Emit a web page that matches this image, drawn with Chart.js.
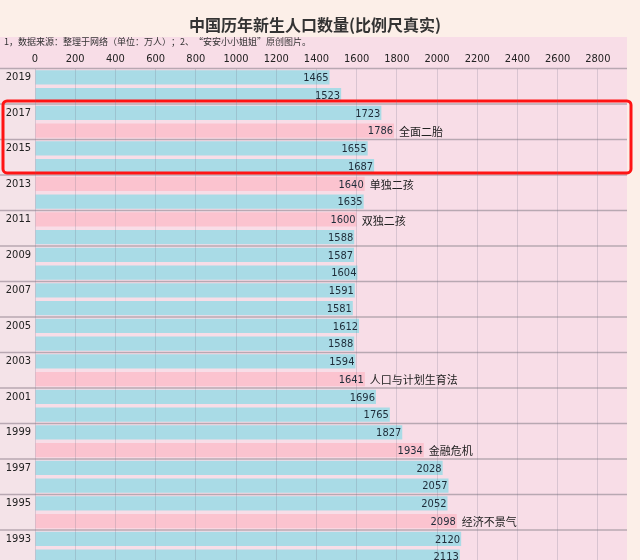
<!DOCTYPE html>
<html>
<head>
<meta charset="utf-8">
<script src="https://cdn.jsdelivr.net/npm/chart.js@4.4.1/dist/chart.umd.min.js"></script>
<style>
html,body{margin:0;padding:0;overflow:hidden;background:#fcefe8;}
#wrap{width:640px;height:576px;}
</style>
</head>
<body>
<div id="wrap"><canvas id="c" width="640" height="576"></canvas></div>
<script>
const years = ["2019","2018","2017","2016","2015","2014","2013","2012","2011","2010","2009","2008","2007","2006","2005","2004","2003","2002","2001","2000","1999","1998","1997","1996","1995","1994","1993","1992"];
const births = [1465,1523,1723,1786,1655,1687,1640,1635,1600,1588,1587,1604,1591,1581,1612,1588,1594,1641,1696,1765,1827,1934,2028,2057,2052,2098,2120,2113];
const notes = ["","","","全面二胎","","","单独二孩","","双独二孩","","","","","","","","","人口与计划生育法","","","","金融危机","","","","经济不景气","",""];
const highlightYears = ["2017","2014"];

const BLUE = "#a9dbe6", PINK = "#fbc3cf";
const numFont = '"DejaVu Sans Condensed","Liberation Sans Narrow",sans-serif';
const cjkFont = '"Noto Sans CJK SC",sans-serif';

const deco = {
  id: "deco",
  beforeDraw(chart) {
    const {ctx, chartArea} = chart;
    ctx.save();
    ctx.fillStyle = "#fcefe8";
    ctx.fillRect(0, 0, chart.width, chart.height);
    ctx.fillStyle = "#f8dde7";
    ctx.fillRect(0, 37, chartArea.right + 1, chart.height - 37);
    ctx.fillStyle = "#f4e3e8";
    ctx.fillRect(0, chartArea.top, chartArea.left, chart.height - chartArea.top);
    ctx.restore();
  },
  afterDatasetsDraw(chart) {
    const {ctx, chartArea} = chart;
    const ys = chart.scales.y;
    const meta = chart.getDatasetMeta(0);
    const pitch = ys.getPixelForValue(1) - ys.getPixelForValue(0);
    const boundary = i => ys.getPixelForValue(i) - pitch / 2;
    ctx.save();
    ctx.strokeStyle = "#b8a8b2";
    ctx.lineWidth = 1.5;
    for (let i = 0; i <= years.length; i += 2) {
      const y = boundary(i);
      ctx.beginPath();
      ctx.moveTo(0, y);
      ctx.lineTo(chartArea.right + 1, y);
      ctx.stroke();
    }
    ctx.textBaseline = "middle";
    meta.data.forEach((bar, i) => {
      ctx.fillStyle = "#1d2b38";
      ctx.font = "11px " + numFont;
      ctx.textAlign = "right";
      ctx.fillText(String(births[i]), bar.x - 1, bar.y + 1);
      if (notes[i]) {
        ctx.textAlign = "left";
        ctx.fillStyle = "#222";
        ctx.font = "11px " + cjkFont;
        ctx.fillText(notes[i], bar.x + 5, bar.y + 1);
      }
    });
    const i0 = years.indexOf(highlightYears[0]);
    const i1 = years.indexOf(highlightYears[1]);
    const top = boundary(i0) - 3;
    const bot = boundary(i1 + 1) - 2;
    const left = 3, right = chartArea.right + 5;
    ctx.strokeStyle = "#ff1414";
    ctx.lineWidth = 3;
    ctx.beginPath();
    if (ctx.roundRect) ctx.roundRect(left, top, right - left, bot - top, 4);
    else ctx.rect(left, top, right - left, bot - top);
    ctx.stroke();
    ctx.restore();
  }
};

new Chart(document.getElementById("c"), {
  type: "bar",
  data: {
    labels: years,
    datasets: [{
      data: births,
      backgroundColor: notes.map(n => n ? PINK : BLUE),
      borderWidth: 0,
      categoryPercentage: 1,
      barPercentage: 0.8
    }]
  },
  options: {
    indexAxis: "y",
    responsive: false,
    animation: false,
    layout: { padding: { left: 4, right: 14, top: 0, bottom: 0 } },
    plugins: {
      legend: { display: false },
      tooltip: { enabled: false },
      title: {
        display: true,
        text: "中国历年新生人口数量(比例尺真实)",
        color: "#333",
        font: { family: cjkFont, size: 16, weight: "bold" },
        padding: { top: 15, bottom: 2 }
      },
      subtitle: {
        display: true,
        text: "1，数据来源：整理于网络（单位：万人）；2、“安安小小姐姐”原创图片。",
        align: "start",
        color: "#333",
        font: { family: cjkFont, size: 9 },
        padding: { top: 0, bottom: 0 }
      }
    },
    scales: {
      x: {
        position: "top",
        min: 0,
        max: 2940,
        ticks: {
          stepSize: 200,
          includeBounds: false,
          callback: v => String(v),
          color: "#222",
          font: { family: numFont, size: 11 },
          padding: 3,
          maxRotation: 0
        },
        grid: { color: "rgba(110,110,130,0.22)", drawTicks: false, z: 1 },
        border: { display: false },
        afterFit: s => { s.height = 21.5; }
      },
      y: {
        ticks: {
          callback: (v, i) => (i % 2 === 0 ? years[i] : ""),
          color: "#222",
          font: { family: numFont, size: 11 },
          crossAlign: "near",
          padding: 4,
          autoSkip: false
        },
        grid: { display: false, drawTicks: false },
        border: { display: false },
        afterFit: s => { s.width = 31; }
      }
    }
  },
  plugins: [deco]
});
</script>
</body>
</html>
